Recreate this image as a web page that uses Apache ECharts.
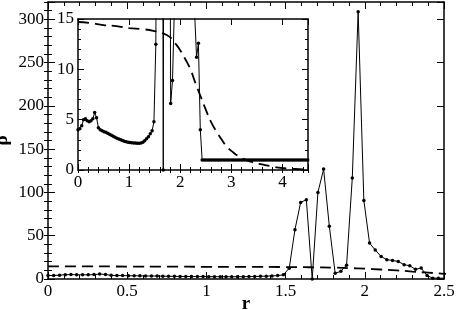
<!DOCTYPE html>
<html>
<head>
<meta charset="utf-8">
<script src="https://cdn.jsdelivr.net/npm/echarts@6/dist/echarts.min.js"></script>
<style>
  html, body { margin: 0; padding: 0; background: #fff; }
  #chart { width: 457px; height: 310px; }
</style>
</head>
<body>
<div id="chart"></div>
<script>
// sampled radius and density (solid curve with dots)
const r = [
  0, 0.036, 0.073, 0.109, 0.145, 0.181, 0.218, 0.254, 0.290, 0.326,
  0.363, 0.399, 0.435, 0.471, 0.508, 0.544, 0.580, 0.616, 0.653, 0.689,
  0.725, 0.761, 0.798, 0.834, 0.870, 0.906, 0.943, 0.979, 1.015, 1.051,
  1.088, 1.124, 1.160, 1.196, 1.233, 1.269, 1.305, 1.341, 1.378, 1.414,
  1.450, 1.486, 1.523, 1.559, 1.595, 1.631, 1.668, 1.704, 1.740, 1.776,
  1.813, 1.849, 1.885, 1.921, 1.958, 1.994, 2.030, 2.066, 2.103, 2.139,
  2.175, 2.211, 2.248, 2.284, 2.320, 2.356, 2.393, 2.429, 2.465, 2.501,
  2.538, 2.574, 2.610, 2.646, 2.683, 2.719, 2.755, 2.791, 2.828, 2.864,
  2.900, 2.936, 2.973, 3.009, 3.045, 3.081, 3.118, 3.154, 3.190, 3.226,
  3.263, 3.299, 3.335, 3.371, 3.408, 3.444, 3.480, 3.516, 3.553, 3.589,
  3.625, 3.661, 3.698, 3.734, 3.770, 3.806, 3.843, 3.879, 3.915, 3.951,
  3.988, 4.024, 4.060, 4.096, 4.133, 4.169, 4.205, 4.241, 4.278, 4.314,
  4.350, 4.386, 4.423, 4.459, 4.495
]
const rho = [
  4.0, 4.1, 4.4, 5.0, 5.1, 4.9, 4.8, 4.9, 5.1, 5.7,
  5.2, 4.2, 4.0, 3.9, 3.8, 3.75, 3.65, 3.55, 3.45, 3.35,
  3.25, 3.15, 3.07, 3.0, 2.93, 2.86, 2.8, 2.76, 2.72, 2.7,
  2.68, 2.67, 2.66, 2.66, 2.67, 2.75, 2.9, 3.1, 3.3, 3.6,
  3.9, 4.8, 12.5, 57, 88.5, 91.6, 0, 100, 127, 61,
  6.6, 8.9, 16, 116.6, 308.7, 90.8, 41.5, 33.5, 26, 22.3,
  21.5, 20.3, 16.5, 15.3, 11.2, 12.6, 4.0, 1.0, 1.0, 1.0,
  1.0, 1.0, 1.0, 1.0, 1.0, 1.0, 1.0, 1.0, 1.0, 1.0,
  1.0, 1.0, 1.0, 1.0, 1.0, 1.0, 1.0, 1.0, 1.0, 1.0,
  1.0, 1.0, 1.0, 1.0, 1.0, 1.0, 1.0, 1.0, 1.0, 1.0,
  1.0, 1.0, 1.0, 1.0, 1.0, 1.0, 1.0, 1.0, 1.0, 1.0,
  1.0, 1.0, 1.0, 1.0, 1.0, 1.0, 1.0, 1.0, 1.0, 1.0,
  1.0, 1.0, 1.0, 1.0, 1.0
]
// dashed reference curve
const dashR = [0, 0.25, 0.5, 0.75, 1.0, 1.25, 1.5, 1.65, 1.8, 1.9, 2.0, 2.1, 2.2, 2.3, 2.4,
  2.5, 2.6, 2.7, 2.8, 2.9, 3.0, 3.2, 3.4, 3.6, 3.8, 4.0, 4.25, 4.5]
const dashRho = [14.7, 14.6, 14.4, 14.3, 14.1, 14.0, 13.8, 13.6, 13.2, 12.6, 11.9, 11.0, 10.0, 8.6, 7.3,
  6.0, 4.8, 3.9, 3.1, 2.4, 1.9, 1.2, 0.8, 0.55, 0.35, 0.2, 0.1, 0.05]
// tick labels
const mainXTicks = ['0', '0.5', '1', '1.5', '2', '2.5']
const mainYTicks = ['0', '50', '100', '150', '200', '250', '300']
const insetXTicks = ['0', '1', '2', '3', '4']
const insetYTicks = ['0', '5', '10', '15']

const solid = r.map((x, i) => [x, rho[i]])
const dashed = dashR.map((x, i) => [x, dashRho[i]])

const font = '"Liberation Serif", "DejaVu Serif", serif'
const black = '#000'

function axisBase(extra) {
  return Object.assign({
    type: 'value',
    axisLine: { show: true, onZero: false, lineStyle: { color: black, width: 1.5 } },
    axisTick: { show: true, inside: true, length: 7, lineStyle: { color: black, width: 1 } },
    axisLabel: { show: false },
    splitLine: { show: false }
  }, extra)
}
function labelStyle(list, margin) {
  return {
    show: true, margin: margin, color: black, fontFamily: font, fontSize: 17,
    formatter: v => list.find(t => Math.abs(Number(t) - v) < 1e-6) || ''
  }
}
function minorAxis(extra, len) {
  return axisBase(Object.assign({
    axisLine: { show: false },
    axisTick: { show: true, inside: true, length: len, lineStyle: { color: black, width: 1 } }
  }, extra))
}

const chart = echarts.init(document.getElementById('chart'), null, { renderer: 'canvas' })
chart.setOption({
  animation: false,
  backgroundColor: '#fff',
  grid: [
    { left: 48, right: 13, top: 2, bottom: 31, outerBoundsMode: 'none' },
    { left: 78, top: 19, width: 230, height: 151, show: true, backgroundColor: '#fff', borderWidth: 0, z: 5,
      outerBoundsMode: 'none' }
  ],
  xAxis: [
    axisBase({ gridIndex: 0, position: 'bottom', min: 0, max: 2.5, interval: 0.5,
      minorTick: { show: true, splitNumber: 5, length: 4, lineStyle: { color: black } },
      axisLabel: labelStyle(mainXTicks, 4),
      name: 'r', nameLocation: 'middle', nameGap: 16, nameMoveOverlap: false,
      nameTextStyle: { fontFamily: font, fontSize: 19, fontWeight: 'bold', color: black } }),
    axisBase({ gridIndex: 0, position: 'top', min: 0, max: 2.5, interval: 0.5,
      minorTick: { show: true, splitNumber: 5, length: 4, lineStyle: { color: black } } }),
    axisBase({ gridIndex: 1, position: 'bottom', min: 0, max: 4.5, interval: 1, z: 6,
      axisTick: { show: true, inside: true, length: 6, lineStyle: { color: black } },
      axisLabel: labelStyle(insetXTicks, 4) }),
    minorAxis({ gridIndex: 1, position: 'bottom', min: 0, max: 4.5, interval: 0.2, z: 6 }, 3),
    axisBase({ gridIndex: 1, position: 'top', min: 0, max: 4.5, interval: 1, z: 6,
      axisTick: { show: true, inside: true, length: 6, lineStyle: { color: black } } }),
    minorAxis({ gridIndex: 1, position: 'top', min: 0, max: 4.5, interval: 0.2, z: 6 }, 3)
  ],
  yAxis: [
    axisBase({ gridIndex: 0, position: 'left', min: 0, max: 320, interval: 50,
      axisLabel: labelStyle(mainYTicks, 4),
      name: 'ρ', nameLocation: 'middle', nameGap: 36, nameMoveOverlap: false,
      nameTextStyle: { fontFamily: font, fontSize: 19, fontWeight: 'bold', color: black } }),
    minorAxis({ gridIndex: 0, position: 'left', min: 0, max: 320, interval: 10 }, 4),
    axisBase({ gridIndex: 0, position: 'right', min: 0, max: 320, interval: 50 }),
    minorAxis({ gridIndex: 0, position: 'right', min: 0, max: 320, interval: 10 }, 4),
    axisBase({ gridIndex: 1, position: 'left', min: 0, max: 15, interval: 5, z: 6,
      axisTick: { show: true, inside: true, length: 6, lineStyle: { color: black } },
      minorTick: { show: true, splitNumber: 5, length: 3, lineStyle: { color: black } },
      axisLabel: labelStyle(insetYTicks, 4) }),
    axisBase({ gridIndex: 1, position: 'right', min: 0, max: 15, interval: 5, z: 6,
      axisTick: { show: true, inside: true, length: 6, lineStyle: { color: black } },
      minorTick: { show: true, splitNumber: 5, length: 3, lineStyle: { color: black } } })
  ],
  series: [
    { type: 'line', xAxisIndex: 0, yAxisIndex: 0, data: dashed, smooth: true, showSymbol: false,
      lineStyle: { color: black, width: 1.8, type: [11, 6] }, clip: true },
    { type: 'line', xAxisIndex: 0, yAxisIndex: 0, data: solid, symbol: 'circle', symbolSize: 3.5,
      itemStyle: { color: black }, lineStyle: { color: black, width: 1 }, clip: true },
    { type: 'line', xAxisIndex: 2, yAxisIndex: 4, data: dashed, smooth: true, showSymbol: false, z: 7,
      lineStyle: { color: black, width: 1.8, type: [11, 6] }, clip: true },
    { type: 'line', xAxisIndex: 2, yAxisIndex: 4, data: solid, symbol: 'circle', symbolSize: 3.5, z: 7,
      itemStyle: { color: black }, lineStyle: { color: black, width: 1 }, clip: true }
  ]
})
</script>
</body>
</html>
